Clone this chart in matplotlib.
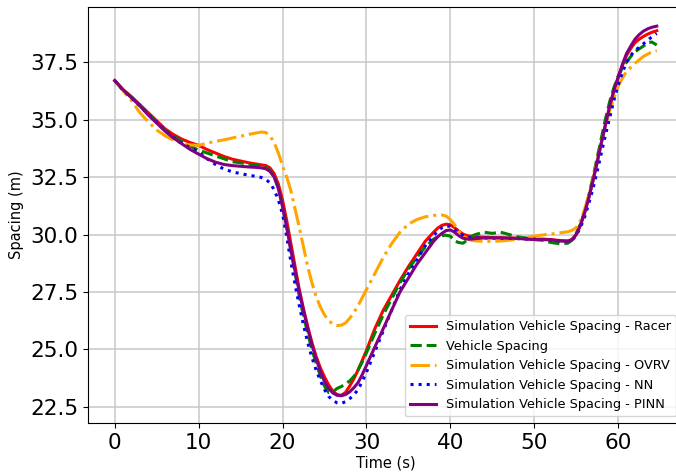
import matplotlib.pyplot as plt

# time axis (s), finer steps where the curves bend
t = [0, 1, 2, 3, 4, 5, 6, 7, 8, 9, 10, 11, 12, 13, 14, 15, 16,
     17, 17.5, 18, 18.5, 19, 19.5, 20, 20.5, 21, 21.5, 22, 22.5, 23, 23.5,
     24, 24.5, 25, 25.5, 26, 26.5, 27, 27.5, 28, 28.5, 29, 29.5, 30,
     31, 32, 33, 34, 35, 36, 37,
     38, 38.5, 39, 39.5, 40, 40.5, 41, 41.5, 42, 42.5, 43,
     44, 45, 46, 47, 48, 49, 50, 51, 52, 53,
     54, 54.5, 55, 55.5, 56, 56.5, 57, 57.5, 58, 58.5, 59, 59.5,
     60, 60.5, 61, 61.5, 62, 62.5, 63, 63.5, 64,
     64.6]

racer = [36.7, 36.3, 36.0, 35.65, 35.3, 34.95, 34.6, 34.35, 34.15, 34.0, 33.88, 33.7, 33.55, 33.4, 33.28, 33.2, 33.12,
         33.06, 33.03, 33.0, 32.9, 32.65, 32.2, 31.5, 30.6, 29.6, 28.6, 27.6, 26.75, 26.0, 25.3,
         24.7, 24.2, 23.8, 23.45, 23.18, 23.03, 23.0, 23.12, 23.4, 23.72, 24.1, 24.52, 24.95,
         25.9, 26.7, 27.35, 28.0, 28.6, 29.15, 29.7,
         30.1, 30.28, 30.4, 30.45, 30.42, 30.3, 30.15, 30.02, 29.95, 29.92, 29.9,
         29.88, 29.87, 29.86, 29.85, 29.84, 29.82, 29.8, 29.8, 29.78, 29.74,
         29.72, 29.78, 30.0, 30.4, 30.95, 31.6, 32.35, 33.15, 34.0, 34.8, 35.55, 36.25,
         36.8, 37.35, 37.8, 38.1, 38.35, 38.5, 38.62, 38.72, 38.8,
         38.87]

measured = [36.7, 36.28, 35.97, 35.62, 35.25, 34.9, 34.55, 34.28, 34.05, 33.85, 33.67, 33.55, 33.42, 33.3, 33.17, 33.12, 33.06,
            33.0, 32.98, 32.92, 32.8, 32.55, 32.05, 31.3, 30.35, 29.3, 28.3, 27.3, 26.45, 25.7, 25.0,
            24.4, 23.85, 23.4, 23.12, 23.15, 23.3, 23.38, 23.5, 23.62, 23.82, 24.1, 24.45, 24.85,
            25.7, 26.5, 27.2, 27.9, 28.5, 29.0, 29.45,
            29.8, 29.9, 29.95, 29.97, 29.93, 29.72, 29.65, 29.62, 29.75, 29.92, 30.0,
            30.1, 30.05, 30.1, 30.0, 29.9, 29.85, 29.78, 29.75, 29.65, 29.6,
            29.62, 29.75, 30.05, 30.45, 31.0, 31.7, 32.5, 33.35, 34.2, 35.05, 35.8, 36.4,
            36.9, 37.25, 37.5, 37.75, 37.95, 38.08, 38.2, 38.35, 38.38,
            38.25]

ovrv = [36.7, 36.25, 35.82, 35.3, 34.9, 34.55, 34.3, 34.1, 33.97, 33.9, 33.88, 33.98, 34.05, 34.12, 34.2, 34.28, 34.36,
        34.43, 34.46, 34.44, 34.3, 34.0, 33.55, 33.0, 32.5, 31.9, 31.1, 30.3, 29.45, 28.6, 27.9,
        27.3, 26.85, 26.5, 26.25, 26.1, 26.04, 26.05, 26.15, 26.35, 26.6, 26.9, 27.25, 27.6,
        28.3, 29.0, 29.6, 30.1, 30.45, 30.65, 30.77,
        30.83, 30.85, 30.85, 30.8, 30.65, 30.42, 30.15, 29.95, 29.82, 29.75, 29.72,
        29.7, 29.7, 29.72, 29.75, 29.8, 29.87, 29.93, 29.98, 30.02, 30.07,
        30.12, 30.18, 30.3, 30.6, 31.1, 31.7, 32.4, 33.2, 34.0, 34.75, 35.4, 35.95,
        36.45, 36.8, 37.1, 37.28, 37.45, 37.6, 37.75, 37.85, 37.95,
        38.0]

nn = [36.7, 36.28, 35.95, 35.6, 35.22, 34.88, 34.52, 34.22, 33.97, 33.78, 33.6, 33.3, 33.05, 32.85, 32.73, 32.65, 32.58,
      32.52, 32.48, 32.4, 32.25, 31.95, 31.5, 30.9, 29.9, 28.8, 27.8, 26.9, 26.05, 25.3, 24.65,
      24.1, 23.65, 23.25, 22.95, 22.78, 22.67, 22.65, 22.72, 22.85, 23.02, 23.25, 23.6, 24.0,
      24.9, 25.8, 26.7, 27.6, 28.3, 28.9, 29.5,
      29.95, 30.15, 30.3, 30.38, 30.35, 30.22, 30.08, 29.95, 29.88, 29.85, 29.85,
      29.85, 29.84, 29.84, 29.83, 29.82, 29.8, 29.8, 29.78, 29.76, 29.72,
      29.7, 29.75, 29.95, 30.3, 30.75, 31.35, 32.0, 32.75, 33.55, 34.35, 35.1, 35.85,
      36.5, 37.05, 37.5, 37.8, 38.0, 38.15, 38.3, 38.45, 38.6,
      38.75]

pinn = [36.7, 36.3, 35.95, 35.6, 35.2, 34.85, 34.5, 34.2, 33.95, 33.7, 33.5, 33.3, 33.15, 33.05, 33.0, 32.97, 32.94,
        32.92, 32.9, 32.86, 32.75, 32.5, 32.0, 31.2, 30.3, 29.3, 28.4, 27.5, 26.7, 25.9, 25.2,
        24.6, 24.05, 23.6, 23.3, 23.1, 23.0, 22.98, 23.03, 23.15, 23.33, 23.55, 23.9, 24.3,
        25.1, 25.9, 26.7, 27.5, 28.1, 28.7, 29.2,
        29.7, 29.9, 30.05, 30.17, 30.2, 30.1, 29.95, 29.84, 29.8, 29.8, 29.82,
        29.85, 29.85, 29.85, 29.84, 29.83, 29.8, 29.78, 29.78, 29.76, 29.72,
        29.7, 29.78, 30.0, 30.4, 30.95, 31.6, 32.35, 33.15, 34.0, 34.8, 35.6, 36.3,
        36.85, 37.4, 37.88, 38.2, 38.5, 38.7, 38.85, 38.95, 39.02,
        39.07]

fig = plt.figure(figsize=(6.76, 4.73), dpi=100)
ax = fig.add_axes([0.130, 0.106, 0.880, 0.879])

ax.plot(t, racer, color='red', lw=2.2, label='Simulation Vehicle Spacing - Racer')
ax.plot(t, measured, color='green', lw=2.2, ls='--', label='Vehicle Spacing')
ax.plot(t, ovrv, color='orange', lw=2.2, ls='-.', label='Simulation Vehicle Spacing - OVRV')
ax.plot(t, nn, color='blue', lw=2.2, ls=':', label='Simulation Vehicle Spacing - NN')
ax.plot(t, pinn, color='purple', lw=2.2, label='Simulation Vehicle Spacing - PINN')

ax.set_xlim(-3.2, 67.7)
ax.set_ylim(21.8, 39.9)
ax.set_xticks([0, 10, 20, 30, 40, 50, 60])
ax.set_yticks([22.5, 25.0, 27.5, 30.0, 32.5, 35.0, 37.5])
ax.tick_params(labelsize=15.5)
ax.set_xlabel('Time (s)', fontsize=10.5, labelpad=2)
ax.set_ylabel('Spacing (m)', fontsize=10.5)
ax.grid(True, color='#c8c8c8', lw=1.1)
ax.legend(loc='lower right', fontsize=9.3)

fig.savefig('out.png', dpi=100)
